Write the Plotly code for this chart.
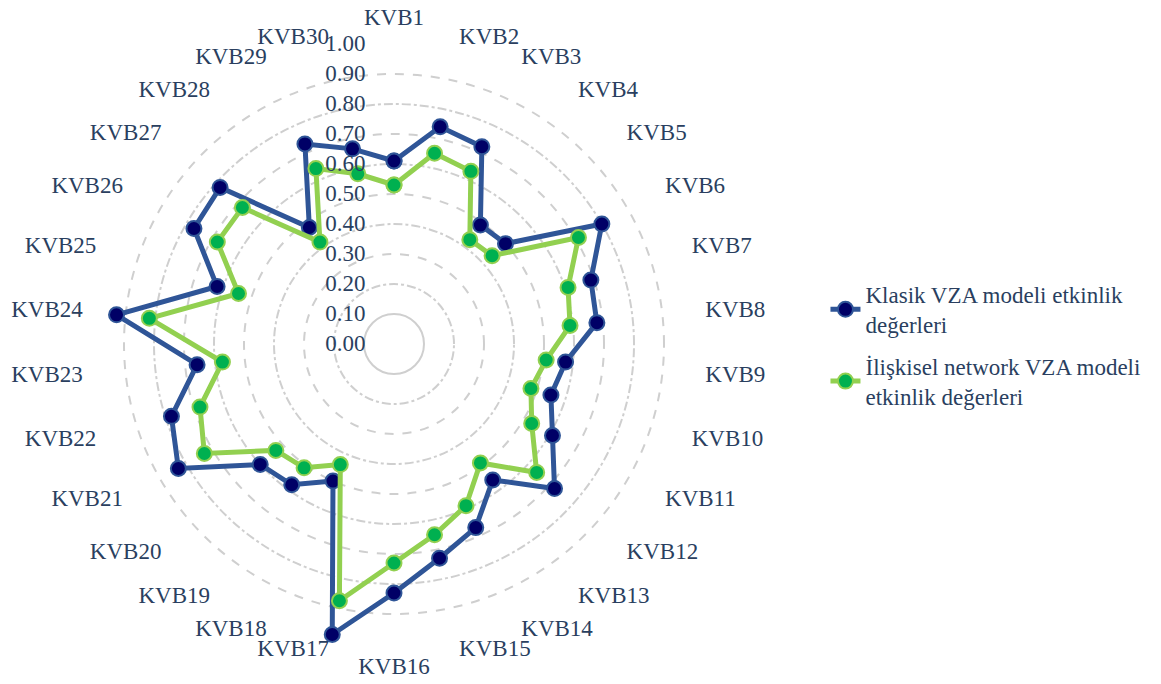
import plotly.graph_objects as go

# Categories (decision units) and efficiency scores of both DEA models
categories = [f"KVB{i}" for i in range(1, 31)]

klasik = [0.61, 0.74, 0.72, 0.49, 0.50, 0.80, 0.69, 0.68, 0.575, 0.55,
          0.61, 0.72, 0.56, 0.67, 0.73, 0.83, 0.99, 0.50, 0.58, 0.60,
          0.83, 0.78, 0.66, 0.93, 0.62, 0.77, 0.78, 0.48, 0.73, 0.665]

iliskisel = [0.53, 0.65, 0.63, 0.43, 0.44, 0.71, 0.61, 0.59, 0.51, 0.48,
             0.53, 0.64, 0.49, 0.59, 0.65, 0.73, 0.875, 0.44, 0.51, 0.53,
             0.73, 0.68, 0.575, 0.82, 0.545, 0.68, 0.68, 0.42, 0.64, 0.58]

radial_ticks = [0.0, 0.1, 0.2, 0.3, 0.4, 0.5, 0.6, 0.7, 0.8, 0.9, 1.0]
radial_labels = [f"{v:.2f}" for v in radial_ticks]

FONT = "Liberation Serif"
FS = 23
TEXT_COLOR = "#2a3f5f"
GRID_COLOR = "#cfcfcf"

W, H = 1161, 684
CX, CY, R = 394, 344, 300          # plot centre and outer radius in px
R_LABEL = 313                       # radius of the category label ring in px


def domain(radius):
    return dict(x=[(CX - radius) / W, (CX + radius) / W],
                y=[(H - CY - radius) / H, (H - CY + radius) / H])


def closed(values):
    return values + values[:1]


fig = go.Figure()

# empty traces so the grid-only polar subplots get rendered
for sp in ["polar", "polar2", "polar3"]:
    fig.add_trace(go.Scatterpolar(r=[None], theta=[None], subplot=sp, mode="lines",
                                  showlegend=False, hoverinfo="skip"))

fig.add_trace(go.Scatterpolar(
    r=closed(klasik), theta=closed(categories), subplot="polar4",
    mode="lines+markers",
    name="Klasik VZA modeli etkinlik<br>değerleri",
    line=dict(color="#2F5597", width=5),
    marker=dict(size=15, color="#000066", line=dict(color="#2F5597", width=2)),
    legendgroup="a",
))
fig.add_trace(go.Scatterpolar(
    r=closed(iliskisel), theta=closed(categories), subplot="polar4",
    mode="lines+markers",
    name="İlişkisel network VZA modeli<br>etkinlik değerleri",
    line=dict(color="#92D050", width=5),
    marker=dict(size=15, color="#00B050", line=dict(color="#92D050", width=2)),
    legendgroup="b",
))

# category labels on an outer ring, anchored away from the centre
n = len(categories)
label_pos = []
for i in range(n):
    if i == 0:
        label_pos.append("top center")
    elif i == n // 2:
        label_pos.append("bottom center")
    elif i < n // 2:
        label_pos.append("middle right")
    else:
        label_pos.append("middle left")

fig.add_trace(go.Scatterpolar(
    r=[1] * n, theta=categories, subplot="polar5",
    mode="text", text=categories, textposition=label_pos,
    textfont=dict(family=FONT, size=FS, color=TEXT_COLOR),
    cliponaxis=False, showlegend=False, hoverinfo="skip",
))

hidden_angular = dict(showticklabels=False, showgrid=False, showline=False, ticks="",
                      rotation=90, direction="clockwise",
                      categoryorder="array", categoryarray=categories)


def grid_polar(tickvals, dash, bg):
    return dict(
        domain=domain(R),
        bgcolor=bg,
        radialaxis=dict(range=[0, 1], tickvals=tickvals, showticklabels=False,
                        showline=False, ticks="", showgrid=True,
                        gridcolor=GRID_COLOR, gridwidth=1.5, griddash=dash),
        angularaxis=dict(showticklabels=False, showgrid=False, showline=False, ticks=""),
    )


fig.update_layout(
    width=W, height=H,
    margin=dict(l=0, r=0, t=0, b=0),
    paper_bgcolor="white",
    plot_bgcolor="white",
    font=dict(family=FONT, size=FS, color=TEXT_COLOR),
    # grid rings: dash-dot on even tenths, dashed on odd tenths, solid innermost ring
    polar=grid_polar([0.2, 0.4, 0.6, 0.8, 1.0], "dashdot", "white"),
    polar2=grid_polar([0.3, 0.5, 0.7, 0.9], "dash", "rgba(0,0,0,0)"),
    polar3=grid_polar([0.1], "solid", "rgba(0,0,0,0)"),
    polar4=dict(
        domain=domain(R),
        bgcolor="rgba(0,0,0,0)",
        radialaxis=dict(range=[0, 1], tickvals=radial_ticks, ticktext=radial_labels,
                        angle=90, tickangle=90, side="counterclockwise",
                        showline=False, showgrid=False, ticks="outside",
                        ticklen=20, tickcolor="rgba(0,0,0,0)",
                        tickfont=dict(family=FONT, size=FS, color=TEXT_COLOR)),
        angularaxis=hidden_angular,
    ),
    polar5=dict(
        domain=domain(R_LABEL),
        bgcolor="rgba(0,0,0,0)",
        radialaxis=dict(range=[0, 1], visible=False),
        angularaxis=hidden_angular,
    ),
    showlegend=True,
    legend=dict(x=0.711, y=0.495, xanchor="left", yanchor="middle",
                traceorder="grouped", tracegroupgap=9,
                font=dict(family=FONT, size=FS, color=TEXT_COLOR),
                bgcolor="rgba(0,0,0,0)"),
)

fig.write_html("out.html")
